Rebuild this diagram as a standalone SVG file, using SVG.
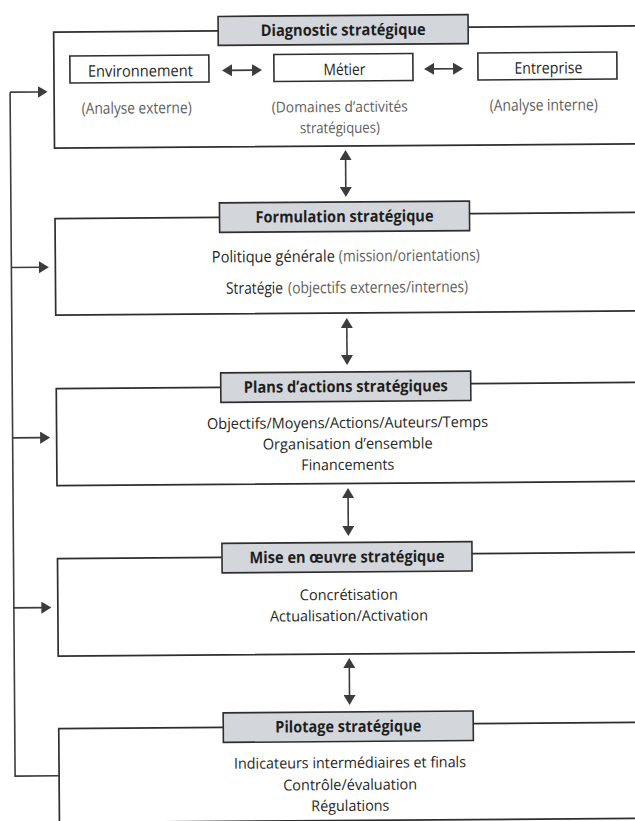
<svg xmlns="http://www.w3.org/2000/svg" width="635" height="821" viewBox="0 0 635 821">
  <defs>
    <style>
      .frame { fill: none; stroke: #2e2e2e; stroke-width: 1.7; }
      .sub { fill: #fff; stroke: #2e2e2e; stroke-width: 1.6; }
      .tbox { fill: #d3d7dc; stroke: #2e2e2e; stroke-width: 1.6; }
      .conn { fill: none; stroke: #3c3c3c; stroke-width: 1.6; }
      .title { font-family: "Open Sans", "Noto Sans", sans-serif; font-size: 16px; font-weight: bold; fill: #1e1e1e; text-anchor: middle; }
      .body { font-family: "Open Sans", "Noto Sans", sans-serif; font-size: 15px; fill: #262626; text-anchor: middle; }
      .big { font-size: 16px; }
      .start { text-anchor: start; }
      .soft { fill: #5e5e5e; }
    </style>
    <marker id="ah" viewBox="0 0 10 12" refX="2" refY="6" markerWidth="10" markerHeight="12" markerUnits="userSpaceOnUse" orient="auto-start-reverse">
      <path d="M0,0 L10,6 L0,12 Z" fill="#3c3c3c"/>
    </marker>
  </defs>
  <rect width="635" height="821" fill="#fff"/>

  <g transform="rotate(-0.42 345 420)">
    <!-- stage 1 -->
    <g id="diagnostic">
      <path class="frame" d="M221,30 H56.5 V146 H660 M471,28 H660"/>
      <rect class="tbox" x="221" y="15.5" width="250" height="29"/>
      <text class="title" x="346" y="35.5" textLength="165" lengthAdjust="spacingAndGlyphs">Diagnostic stratégique</text>
      <g id="environnement">
        <rect class="sub" x="72.5" y="54" width="139" height="27"/>
        <text class="body big" x="143" y="75" textLength="105" lengthAdjust="spacingAndGlyphs">Environnement</text>
        <text class="body big soft" x="139" y="112" textLength="110" lengthAdjust="spacingAndGlyphs">(Analyse externe)</text>
      </g>
      <g id="metier">
        <rect class="sub" x="276.5" y="54" width="139" height="27"/>
        <text class="body big" x="347" y="75" textLength="42" lengthAdjust="spacingAndGlyphs">Métier</text>
        <text class="body soft" x="342" y="112" textLength="136" lengthAdjust="spacingAndGlyphs">(Domaines d’activités</text>
        <text class="body soft" x="342" y="133" textLength="80" lengthAdjust="spacingAndGlyphs">stratégiques)</text>
      </g>
      <g id="entreprise">
        <rect class="sub" x="480.5" y="54" width="139" height="27"/>
        <text class="body big" x="551" y="75" textLength="68" lengthAdjust="spacingAndGlyphs">Entreprise</text>
        <text class="body big soft" x="546" y="112" textLength="108" lengthAdjust="spacingAndGlyphs">(Analyse interne)</text>
      </g>
    </g>

    <!-- stage 2 -->
    <g id="formulation">
      <path class="frame" d="M221,216.5 H56.5 V313 H660 M471,214.5 H660"/>
      <rect class="tbox" x="221" y="202" width="250" height="29.5"/>
      <text class="title" x="346" y="222" textLength="178" lengthAdjust="spacingAndGlyphs">Formulation stratégique</text>
      <text class="body big start" x="213" y="261.5" textLength="123" lengthAdjust="spacingAndGlyphs">Politique générale</text>
      <text class="body big start soft" x="340" y="261.5" textLength="141" lengthAdjust="spacingAndGlyphs">(mission/orientations)</text>
      <text class="body big start" x="227" y="293" textLength="57" lengthAdjust="spacingAndGlyphs">Stratégie</text>
      <text class="body big start soft" x="289" y="293" textLength="180" lengthAdjust="spacingAndGlyphs">(objectifs externes/internes)</text>
    </g>

    <!-- stage 3 -->
    <g id="plans">
      <path class="frame" d="M221,386.5 H56.5 V483.5 H660 M471,384.5 H660"/>
      <rect class="tbox" x="221" y="372" width="250" height="29.5"/>
      <text class="title" x="346" y="392" textLength="204" lengthAdjust="spacingAndGlyphs">Plans d’actions stratégiques</text>
      <text class="body" x="347.5" y="428" textLength="281" lengthAdjust="spacingAndGlyphs">Objectifs/Moyens/Actions/Auteurs/Temps</text>
      <text class="body" x="347.5" y="449" textLength="170" lengthAdjust="spacingAndGlyphs">Organisation d’ensemble</text>
      <text class="body" x="347.5" y="470" textLength="93" lengthAdjust="spacingAndGlyphs">Financements</text>
    </g>

    <!-- stage 4 -->
    <g id="mise-en-oeuvre">
      <path class="frame" d="M221,556.5 H56.5 V654 H660 M471,554.5 H660"/>
      <rect class="tbox" x="221" y="542.5" width="250" height="29.5"/>
      <text class="title" x="346" y="562.5" textLength="195" lengthAdjust="spacingAndGlyphs">Mise en œuvre stratégique</text>
      <text class="body" x="347.5" y="600" textLength="98" lengthAdjust="spacingAndGlyphs">Concrétisation</text>
      <text class="body" x="347.5" y="621" textLength="158" lengthAdjust="spacingAndGlyphs">Actualisation/Activation</text>
    </g>

    <!-- stage 5 -->
    <g id="pilotage">
      <path class="frame" d="M221,726.5 H56.5 V820.5 H660 M471,724.5 H660"/>
      <rect class="tbox" x="221" y="712" width="250" height="29.5"/>
      <text class="title" x="346" y="732" textLength="146" lengthAdjust="spacingAndGlyphs">Pilotage stratégique</text>
      <text class="body" x="347.5" y="768" textLength="232" lengthAdjust="spacingAndGlyphs">Indicateurs intermédiaires et finals</text>
      <text class="body" x="347.5" y="790" textLength="134" lengthAdjust="spacingAndGlyphs">Contrôle/évaluation</text>
      <text class="body" x="347.5" y="811" textLength="78" lengthAdjust="spacingAndGlyphs">Régulations</text>
    </g>

    <!-- connectors -->
    <g id="connectors">
      <!-- links between the three analysis boxes -->
      <line class="conn" x1="232.6" y1="69.5" x2="256.6" y2="69.5" marker-start="url(#ah)" marker-end="url(#ah)"/>
      <line class="conn" x1="434.6" y1="69.5" x2="457.6" y2="69.5" marker-start="url(#ah)" marker-end="url(#ah)"/>
      <!-- links between consecutive stages -->
      <line class="conn" x1="347.5" y1="158" x2="347.5" y2="189" marker-start="url(#ah)" marker-end="url(#ah)"/>
      <line class="conn" x1="347.5" y1="326" x2="347.5" y2="357" marker-start="url(#ah)" marker-end="url(#ah)"/>
      <line class="conn" x1="347.5" y1="496" x2="347.5" y2="528" marker-start="url(#ah)" marker-end="url(#ah)"/>
      <line class="conn" x1="347.5" y1="666" x2="347.5" y2="697" marker-start="url(#ah)" marker-end="url(#ah)"/>
      <!-- feedback loop from monitoring back to every stage -->
      <path class="conn" d="M56.5,773.7 H12.5 V89.7"/>
      <line class="conn" x1="12.5" y1="89.7" x2="42" y2="89.7" marker-end="url(#ah)"/>
      <line class="conn" x1="12.5" y1="265" x2="42" y2="265" marker-end="url(#ah)"/>
      <line class="conn" x1="12.5" y1="435.4" x2="42" y2="435.4" marker-end="url(#ah)"/>
      <line class="conn" x1="12.5" y1="605.4" x2="42" y2="605.4" marker-end="url(#ah)"/>
    </g>
  </g>
</svg>
